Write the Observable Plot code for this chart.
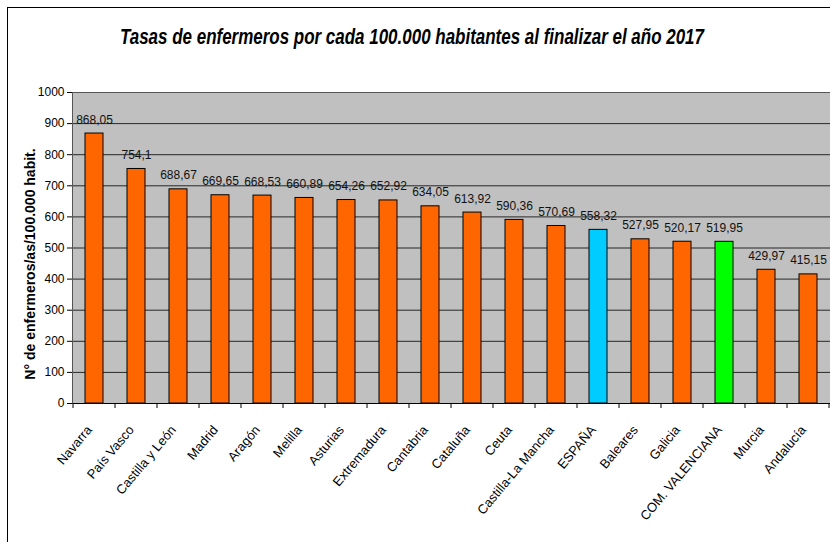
<!DOCTYPE html>
<html>
<head>
<meta charset="utf-8">
<script src="https://cdn.jsdelivr.net/npm/d3@7"></script>
<script src="https://cdn.jsdelivr.net/npm/@observablehq/plot@0.6"></script>
<style>
  html, body { margin: 0; padding: 0; background: #fff; }
  #wrap { position: relative; width: 830px; height: 542px; overflow: hidden; font-family: "Liberation Sans", Arial, sans-serif; }
  #head { position: relative; width: 830px; height: 80px; }
  #title { position: absolute; left: 412px; top: 26px; white-space: nowrap; font-size: 22px; line-height: 22px; font-weight: bold; font-style: italic; color: #000; transform-origin: center; }
  #border { position: absolute; left: 7px; top: 7px; width: 1000px; height: 1000px; border-left: 1px solid #000; border-top: 1px solid #000; pointer-events: none; }
  svg { display: block; overflow: visible; }
</style>
</head>
<body>
<div id="wrap">
  <div id="head"><span id="title">Tasas de enfermeros por cada 100.000 habitantes al finalizar el año 2017</span></div>
  <div id="chart"></div>
  <div id="border"></div>
</div>
<script>
const regions = ["Navarra", "País Vasco", "Castilla y León", "Madrid", "Aragón", "Melilla", "Asturias", "Extremadura", "Cantabria", "Cataluña", "Ceuta", "Castilla-La Mancha", "ESPAÑA", "Baleares", "Galicia", "COM. VALENCIANA", "Murcia", "Andalucía"];
const rates = [868.05, 754.1, 688.67, 669.65, 668.53, 660.89, 654.26, 652.92, 634.05, 613.92, 590.36, 570.69, 558.32, 527.95, 520.17, 519.95, 429.97, 415.15];
const yTicks = [0, 100, 200, 300, 400, 500, 600, 700, 800, 900, 1000];
const yLabel = "N° de enfermeros/as/100.000 habit.";
const totalName = "ESPAÑA";
const highlightName = "COM. VALENCIANA";

const data = regions.map((r, i) => ({region: r, rate: rates[i]}));
const fmt = v => String(v).replace(".", ",");
const barFill = d => d.region === totalName ? "#00CCFF" : d.region === highlightName ? "#00FF00" : "#FF6600";

// category boundary ticks below the x axis
function boundaryTicks(index, scales, values, dims) {
  const x = scales.x;
  const dom = x.domain();
  const step = x.step();
  const bw = x.bandwidth();
  const y0 = dims.height - dims.marginBottom;
  const g = d3.create("svg:g").attr("stroke", "#000").attr("stroke-width", 1);
  const xs = dom.map(c => x(c) - (step - bw) / 2);
  xs.push(xs[xs.length - 1] + step);
  for (const px of xs) {
    g.append("line").attr("x1", px).attr("x2", px).attr("y1", y0).attr("y2", y0 + 5);
  }
  return g.node();
}

const chart = Plot.plot({
  width: 830,
  height: 462,
  marginTop: 12,
  marginBottom: 139,
  marginLeft: 72,
  marginRight: 0,
  style: {fontFamily: "Liberation Sans, Arial, sans-serif", fontSize: "12px", color: "#000", background: "transparent", overflow: "visible"},
  x: {domain: regions, paddingInner: 0.58, paddingOuter: 0.29, label: null},
  y: {domain: [0, 1000], label: null},
  marks: [
    Plot.frame({fill: "#C0C0C0", stroke: null}),
    Plot.gridY(yTicks, {stroke: "#000", strokeOpacity: 0.8, strokeWidth: 1}),
    Plot.barY(data, {x: "region", y: "rate", fill: barFill, stroke: "#000", strokeWidth: 1}),
    Plot.text(data, {x: "region", y: "rate", text: d => fmt(d.rate), lineAnchor: "bottom", dy: -10, fontSize: 12, fill: "#111"}),
    Plot.ruleY([0], {stroke: "#000", strokeWidth: 1}),
    Plot.frame({anchor: "left", stroke: "#555"}),
    Plot.frame({anchor: "top", stroke: "#555"}),
    Plot.axisY({ticks: yTicks, tickFormat: d => String(d), tickSize: 5, tickPadding: 3, fontSize: 12, label: null, stroke: "#000"}),
    Plot.axisX({tickSize: 0, tickPadding: 24, dx: -5, tickRotate: -50, fontSize: 13, label: null}),
    boundaryTicks,
    Plot.text([yLabel], {frameAnchor: "left", textAnchor: "middle", rotate: -90, dx: -42, dy: 16, fontWeight: "bold", fontSize: 14, fill: "#000"})
  ]
});
document.getElementById("chart").appendChild(chart);

// condense title to the reference width and center it
const t = document.getElementById("title");
const w = t.getBoundingClientRect().width;
const s = 584 / w;
t.style.transform = `translateX(-50%) scaleX(${s})`;
</script>
</body>
</html>
